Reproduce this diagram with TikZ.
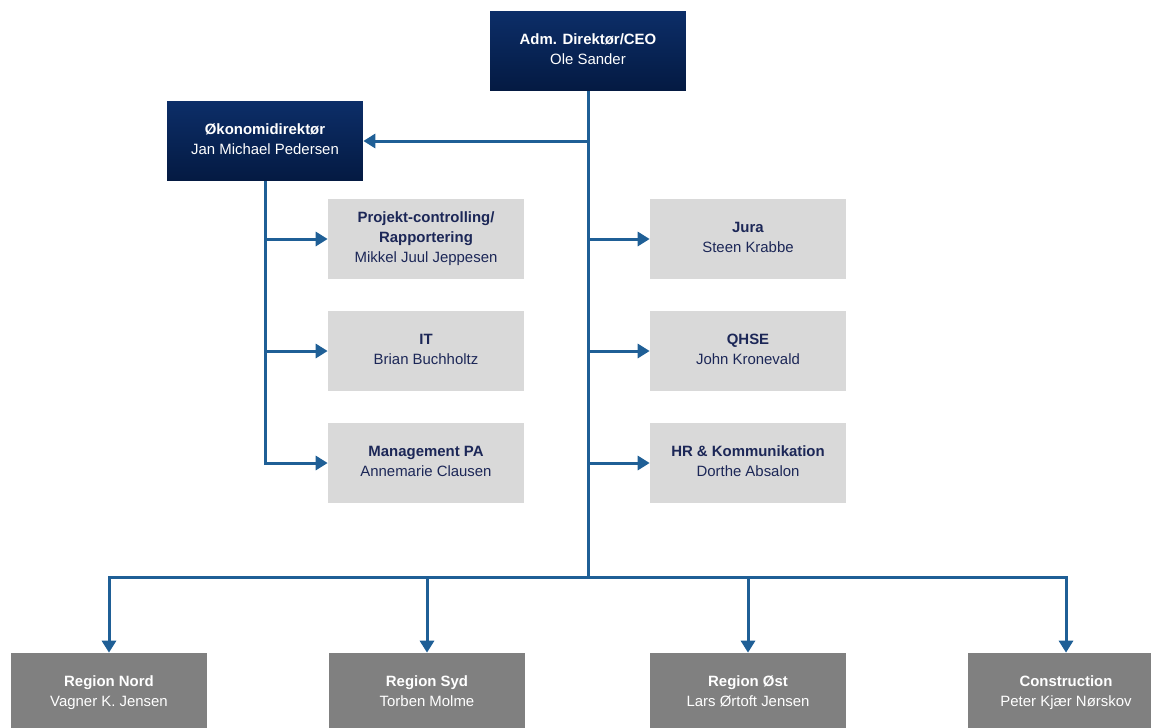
\documentclass[tikz,border=0pt]{standalone}
\usepackage{fontspec}
\setmainfont{Liberation Sans}
\usetikzlibrary{arrows.meta}
\definecolor{navytop}{HTML}{0C2E68}
\definecolor{navybot}{HTML}{041A42}
\definecolor{linkblue}{HTML}{1F5F96}
\definecolor{staffgrey}{HTML}{D9D9D9}
\definecolor{regiongrey}{HTML}{808080}
\definecolor{stafftext}{HTML}{1C2757}
\begin{document}
\begin{tikzpicture}[x=0.02cm, y=-0.02cm, >={Triangle[length=0.24cm,width=0.28cm]},
		font=\fontsize{8.5}{11.3}\selectfont,
		box/.style={minimum width=3.92cm, minimum height=1.6cm, align=center, inner sep=0pt,
			execute at end node={\rule[-1.8pt]{0pt}{1pt}}},
		chief/.style={box, top color=navytop, bottom color=navybot, text=white},
		staff/.style={box, fill=staffgrey, text=stafftext},
		region/.style={box, fill=regiongrey, text=white},
		link/.style={draw=linkblue, line width=0.06cm}]
		\useasboundingbox (0,0) rectangle (1151,727);
		\node[chief] (ceo) at (588,51) {\textbf{Adm. Direktør/CEO}\\Ole Sander};
		\node[chief] (oek) at (265,141) {\textbf{Økonomidirektør}\\Jan Michael Pedersen};
		\node[staff] (proj) at (426,239) {\textbf{Projekt-controlling/}\\\textbf{Rapportering}\\Mikkel Juul Jeppesen};
		\node[staff] (it) at (426,351) {\textbf{IT}\\Brian Buchholtz};
		\node[staff] (pa) at (426,463) {\textbf{Management PA}\\Annemarie Clausen};
		\node[staff] (jura) at (748,239) {\textbf{Jura}\\Steen Krabbe};
		\node[staff] (qhse) at (748,351) {\textbf{QHSE}\\John Kronevald};
		\node[staff] (hr) at (748,463) {\textbf{HR \& Kommunikation}\\Dorthe Absalon};
		\node[region] (nord) at (109,693) {\textbf{Region Nord}\\Vagner K. Jensen};
		\node[region] (syd) at (427,693) {\textbf{Region Syd}\\Torben Molme};
		\node[region] (oest) at (748,693) {\textbf{Region Øst}\\Lars Ørtoft Jensen};
		\node[region] (constr) at (1066,693) {\textbf{Construction}\\Peter Kjær Nørskov};
		\coordinate (bus) at (588,577);
		\draw[link] (ceo.south) -- (bus);
		\draw[link,->] (ceo.south |- oek) -- (oek.east);
		\draw[link,->] (oek.south) |- (pa.west);
		\draw[link,->] (oek.south |- proj) -- (proj.west);
		\draw[link,->] (oek.south |- it) -- (it.west);
		\foreach \n in {jura,qhse,hr}
			\draw[link,->] (ceo.south |- \n) -- (\n.west);
		\foreach \n in {nord,syd,oest,constr}
			\draw[link,->] (bus) -| (\n.north);
	\end{tikzpicture}
\end{document}
